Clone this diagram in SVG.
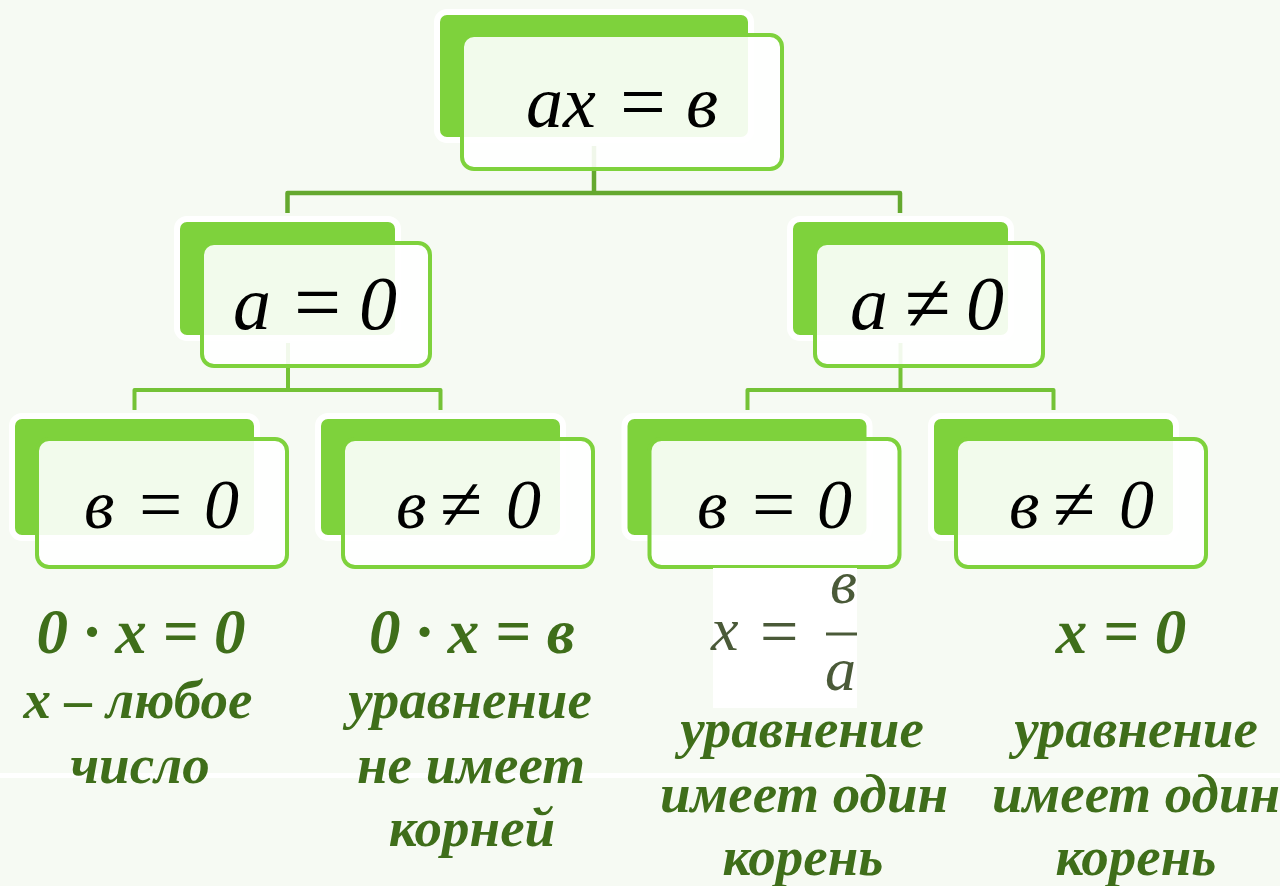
<svg xmlns="http://www.w3.org/2000/svg" width="1280" height="886" viewBox="0 0 1280 886">
<style>
.back{fill:#7ed23c;stroke:#ffffff;stroke-width:6}
.front{fill:#ffffff;fill-opacity:0.9;stroke:#7ed23c;stroke-width:4}
.math{font-family:"Liberation Serif","Times New Roman",serif;font-style:italic;fill:#000}
.up{font-style:normal;font-size:110%}
.lbl{font-family:"Liberation Serif","Times New Roman",serif;font-style:italic;font-weight:bold;fill:#3f6e1a;text-anchor:middle}
.c1{fill:none;stroke:#64a82e;stroke-width:4.5;stroke-linejoin:round}
.c2{fill:none;stroke:#74c236;stroke-width:4;stroke-linejoin:round}
</style>
<rect x="0" y="0" width="1280" height="886" fill="#f6faf3"/>
<rect x="0" y="773" width="1280" height="5" fill="#ffffff"/>
<g id="connectors">
<path class="c1" d="M594,146 V193 M287.5,213 V193 H900 V213"/>
<path class="c2" d="M288,343 V390 M134.5,410 V390 H440.5 V410"/>
<path class="c2" d="M900.5,343 V390 M747.5,410 V390 H1053.5 V410"/>
</g>
<g id="n-root">
<rect class="back" x="437" y="12" width="314" height="128" rx="10"/>
<rect class="front" x="462" y="35" width="320" height="134" rx="12"/>
<text class="math" y="127" font-size="74"><tspan x="526">ax</tspan><tspan class="up" x="620" dy="2">=</tspan><tspan x="686" dy="-2">в</tspan></text>
</g>
<g id="n-a0">
<rect class="back" x="177" y="219" width="221" height="119" rx="10"/>
<rect class="front" x="202" y="243" width="228" height="123" rx="12"/>
<text class="math" y="329" font-size="76"><tspan x="233">a</tspan><tspan class="up" x="294" dy="2">=</tspan><tspan x="359" dy="-2">0</tspan></text>
</g>
<g id="n-a1">
<rect class="back" x="790" y="219" width="221" height="119" rx="10"/>
<rect class="front" x="815" y="243" width="228" height="123" rx="12"/>
<text class="math" y="329" font-size="76"><tspan x="850">a</tspan><tspan class="up" x="905" dy="2">≠</tspan><tspan x="966" dy="-2">0</tspan></text>
</g>
<g id="n-b00">
<rect class="back" x="12" y="416" width="245" height="122" rx="10"/>
<rect class="front" x="37" y="439" width="250" height="128" rx="12"/>
<text class="math" y="528" font-size="70"><tspan x="84">в</tspan><tspan class="up" x="139" dy="2">=</tspan><tspan x="204" dy="-2">0</tspan></text>
</g>
<g id="n-b01">
<rect class="back" x="318" y="416" width="245" height="122" rx="10"/>
<rect class="front" x="343" y="439" width="250" height="128" rx="12"/>
<text class="math" y="528" font-size="70"><tspan x="396">в</tspan><tspan class="up" x="440" dy="2">≠</tspan><tspan x="506" dy="-2">0</tspan></text>
</g>
<g id="n-b10">
<rect class="back" x="624.5" y="416" width="245" height="122" rx="10"/>
<rect class="front" x="649.5" y="439" width="250" height="128" rx="12"/>
<text class="math" y="528" font-size="70"><tspan x="697">в</tspan><tspan class="up" x="752" dy="2">=</tspan><tspan x="817" dy="-2">0</tspan></text>
</g>
<g id="n-b11">
<rect class="back" x="931" y="416" width="245" height="122" rx="10"/>
<rect class="front" x="956" y="439" width="250" height="128" rx="12"/>
<text class="math" y="528" font-size="70"><tspan x="1009">в</tspan><tspan class="up" x="1053" dy="2">≠</tspan><tspan x="1119" dy="-2">0</tspan></text>
</g>
<g id="r-1">
<text class="lbl" x="141" y="653" font-size="63">0 · x = 0</text>
<text class="lbl" x="138" y="718" font-size="55">x – любое</text>
<text class="lbl" x="140" y="783" font-size="55">число</text>
</g>
<g id="r-2">
<text class="lbl" x="472" y="653" font-size="63">0 · x = в</text>
<text class="lbl" x="470" y="718" font-size="55">уравнение</text>
<text class="lbl" x="471" y="783" font-size="55">не имеет</text>
<text class="lbl" x="472" y="846" font-size="55">корней</text>
</g>
<g id="r-3">
<rect x="713" y="568" width="144" height="140" fill="#ffffff"/>
<text class="math" font-size="62" style="fill:#4a5a38"><tspan x="711" y="650">x</tspan><tspan class="up" x="760" y="654">=</tspan><tspan x="830" y="603">в</tspan><tspan x="825" y="690">a</tspan></text>
<line x1="826" y1="634" x2="857" y2="634" stroke="#4a5a38" stroke-width="3"/>
<text class="lbl" x="802" y="747" font-size="55">уравнение</text>
<text class="lbl" x="804" y="812" font-size="55">имеет один</text>
<text class="lbl" x="803" y="875" font-size="55">корень</text>
</g>
<g id="r-4">
<text class="lbl" x="1121" y="653" font-size="63">x = 0</text>
<text class="lbl" x="1136" y="747" font-size="55">уравнение</text>
<text class="lbl" x="1136" y="812" font-size="55">имеет один</text>
<text class="lbl" x="1136" y="875" font-size="55">корень</text>
</g>
</svg>
